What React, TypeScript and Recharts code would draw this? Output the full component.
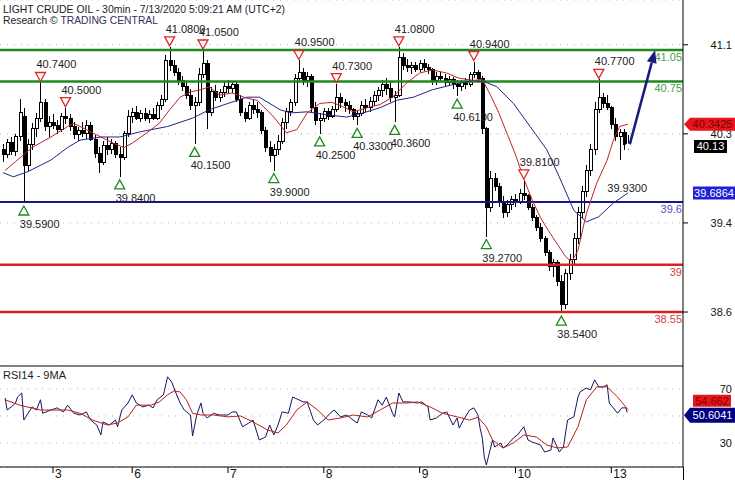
import React from 'react';
import {
  ComposedChart, Bar, Line, Scatter, XAxis, YAxis, CartesianGrid,
  ReferenceLine, ReferenceDot,
} from 'recharts';

const FONT = '"Liberation Sans", Arial, Helvetica, sans-serif';

// ---------- DATA ----------
const TITLE = 'LIGHT CRUDE OIL - 30min - 7/13/2020 5:09:21 AM (UTC+2)';

// hourly candles [open, high, low, close], t = index
const candles: [number, number, number, number][] = [
  [40.10,40.15,39.98,40.05],[40.05,40.20,40.02,40.17],[40.17,40.22,40.05,40.08],[40.08,40.25,40.04,40.22],
  [40.22,40.58,40.18,40.45],[40.42,40.50,39.59,39.95],[39.95,40.20,39.90,40.15],[40.15,40.35,40.10,40.30],
  [40.30,40.45,40.22,40.40],[40.40,40.74,40.36,40.55],[40.55,40.58,40.28,40.32],[40.32,40.42,40.22,40.36],
  [40.36,40.44,40.30,40.33],[40.33,40.38,40.25,40.29],[40.29,40.45,40.27,40.42],[40.42,40.50,40.34,40.40],
  [40.40,40.44,40.28,40.32],[40.32,40.36,40.20,40.24],[40.24,40.32,40.18,40.28],[40.28,40.36,40.22,40.25],
  [40.25,40.38,40.20,40.33],[40.33,40.36,40.18,40.20],[40.20,40.24,40.02,40.06],[40.06,40.12,39.88,39.98],
  [39.98,40.18,39.95,40.14],[40.14,40.22,40.05,40.10],[40.10,40.20,40.06,40.16],[40.16,40.18,40.02,40.05],
  [40.05,40.12,39.84,40.02],[40.02,40.28,40.00,40.25],[40.25,40.48,40.22,40.42],[40.42,40.50,40.35,40.45],
  [40.45,40.52,40.38,40.40],[40.40,40.48,40.36,40.44],[40.44,40.50,40.37,40.40],[40.40,40.48,40.35,40.43],
  [40.43,40.50,40.38,40.40],[40.40,40.55,40.38,40.52],[40.52,40.62,40.48,40.58],[40.58,41.00,40.55,40.95],
  [40.95,41.08,40.85,40.90],[40.90,40.95,40.80,40.84],[40.84,40.88,40.72,40.76],[40.76,40.80,40.66,40.70],
  [40.70,40.74,40.58,40.62],[40.62,40.68,40.48,40.52],[40.52,40.60,40.15,40.55],[40.55,40.88,40.52,40.82],
  [40.82,41.05,40.78,40.92],[40.92,40.95,40.30,40.45],[40.45,40.70,40.42,40.65],[40.65,40.72,40.56,40.60],
  [40.60,40.68,40.55,40.64],[40.64,40.74,40.60,40.70],[40.70,40.76,40.63,40.68],[40.68,40.75,40.64,40.72],
  [40.72,40.74,40.55,40.58],[40.58,40.62,40.42,40.45],[40.45,40.50,40.36,40.40],[40.40,40.55,40.38,40.52],
  [40.52,40.58,40.44,40.48],[40.48,40.55,40.40,40.45],[40.45,40.48,40.25,40.28],[40.28,40.32,40.08,40.12],
  [40.12,40.18,39.98,40.04],[40.04,40.15,39.90,40.10],[40.10,40.24,40.05,40.18],[40.18,40.40,40.15,40.36],
  [40.36,40.50,40.30,40.46],[40.46,40.58,40.42,40.55],[40.55,40.82,40.52,40.78],[40.78,40.95,40.74,40.84],
  [40.84,40.88,40.72,40.76],[40.76,40.84,40.70,40.80],[40.80,40.82,40.45,40.50],[40.50,40.55,40.33,40.38],
  [40.38,40.45,40.25,40.40],[40.40,40.50,40.36,40.46],[40.46,40.50,40.38,40.42],[40.42,40.52,40.40,40.48],
  [40.48,40.73,40.46,40.60],[40.60,40.64,40.50,40.55],[40.55,40.58,40.46,40.52],[40.52,40.56,40.44,40.48],
  [40.48,40.50,40.38,40.42],[40.42,40.48,40.33,40.44],[40.44,40.56,40.42,40.52],[40.52,40.58,40.46,40.50],
  [40.50,40.60,40.46,40.56],[40.56,40.66,40.52,40.62],[40.62,40.70,40.56,40.66],[40.66,40.76,40.60,40.72],
  [40.72,40.78,40.62,40.68],[40.68,40.74,40.55,40.60],[40.60,40.66,40.36,40.62],[40.62,41.08,40.60,40.98],
  [40.98,41.02,40.86,40.90],[40.90,40.96,40.84,40.88],[40.88,40.94,40.82,40.90],[40.90,40.94,40.84,40.86],
  [40.86,40.95,40.84,40.92],[40.92,40.96,40.85,40.88],[40.88,40.92,40.82,40.86],[40.86,40.88,40.72,40.76],
  [40.76,40.84,40.72,40.80],[40.80,40.84,40.74,40.78],[40.78,40.82,40.70,40.74],[40.74,40.80,40.72,40.77],
  [40.77,40.79,40.68,40.72],[40.72,40.76,40.61,40.70],[40.70,40.76,40.66,40.74],[40.74,40.78,40.68,40.72],
  [40.72,40.84,40.70,40.82],[40.82,40.94,40.78,40.84],[40.84,40.86,40.74,40.78],[40.78,40.80,40.25,40.30],
  [40.30,40.32,39.27,39.55],[39.55,39.90,39.50,39.82],[39.82,39.88,39.70,39.75],[39.75,39.78,39.55,39.60],
  [39.60,39.66,39.45,39.50],[39.50,39.62,39.46,39.58],[39.58,39.66,39.52,39.62],[39.62,39.68,39.55,39.60],
  [39.60,39.72,39.58,39.68],[39.68,39.81,39.62,39.66],[39.66,39.68,39.52,39.55],[39.55,39.58,39.42,39.45],
  [39.45,39.48,39.32,39.36],[39.36,39.40,39.22,39.25],[39.25,39.28,39.08,39.12],[39.12,39.14,38.94,38.98],
  [38.98,39.06,38.88,39.02],[39.02,39.05,38.80,38.84],[38.84,38.90,38.54,38.62],[38.62,38.96,38.58,38.92],
  [38.92,39.10,38.86,39.05],[39.05,39.30,39.00,39.25],[39.25,39.55,39.20,39.50],[39.50,39.75,39.45,39.70],
  [39.70,39.95,39.65,39.90],[39.90,40.15,39.85,40.10],[40.10,40.55,40.05,40.48],[40.48,40.77,40.45,40.60],
  [40.60,40.64,40.50,40.54],[40.54,40.62,40.48,40.50],[40.50,40.52,40.30,40.34],[40.34,40.40,40.18,40.22],
  [40.22,40.30,40.00,40.26],[40.26,40.30,40.10,40.15],[40.15,40.24,40.10,40.13],
];

const redMa: [number, number][] = [
  [0.5,39.90],[7,40.12],[11.5,40.22],[15.5,40.32],[17,40.35],[20,40.29],[23.5,40.22],[26.5,40.16],
  [29,40.12],[31,40.16],[34.5,40.26],[37.5,40.35],[40,40.48],[42.5,40.60],[45,40.65],[47.5,40.67],
  [49.5,40.70],[52,40.62],[55,40.64],[58.5,40.59],[61,40.57],[65,40.41],[68,40.26],[70.5,40.29],
  [73,40.45],[76,40.54],[79,40.55],[81.5,40.51],[84,40.46],[87.5,40.50],[90.5,40.53],[93.5,40.60],
  [97,40.74],[100,40.83],[103,40.86],[106.5,40.83],[109.5,40.78],[113,40.76],[115,40.77],[117,40.62],
  [119,40.45],[121,40.25],[123,40.05],[125,39.82],[127,39.62],[129,39.45],[131,39.32],[133,39.20],
  [135,39.08],[136.5,39.03],[138,39.14],[140,39.49],[142.5,39.78],[145,40.00],[146.5,40.19],[148,40.32],
  [150,40.3425],
];

const blueMa: [number, number][] = [
  [0,39.88],[2.5,39.84],[6,39.89],[11.5,40.00],[15.5,40.12],[18.5,40.19],[23.5,40.22],[28,40.22],
  [33,40.27],[39.5,40.32],[45.5,40.40],[49.5,40.48],[54,40.54],[58.5,40.60],[61.5,40.60],[66.5,40.48],
  [69,40.45],[73,40.46],[78,40.43],[82.5,40.41],[86.5,40.45],[90.5,40.50],[94.5,40.57],[98.5,40.60],
  [103,40.67],[108,40.72],[113,40.76],[116,40.74],[118.5,40.70],[122.5,40.54],[126.5,40.32],[130.5,40.10],
  [133.5,39.84],[137,39.52],[140,39.41],[143,39.46],[146.5,39.59],[150,39.6864],
];

const rsi: [number, number][] = [
  [0.5,63.3],[1,54.4],[2,56.7],[3,59.6],[3.5,64],[4.5,67],[5,47],[6,52],[7,56.7],[8,54.4],[9,62],
  [9.5,52],[11.5,54.4],[13,56],[14.5,53],[15.5,58],[17,52],[18.5,50.7],[20,53],[21,47],[22.5,43.3],
  [23.5,36],[24,45.6],[25.5,43.3],[27,47],[27.5,42],[28.5,54.4],[30,59.6],[31,65.6],[32,59.6],
  [33.5,56.7],[35,58],[36,56],[37,62],[38.5,65.6],[39.5,79],[40.5,75],[41.5,67],[42.5,59.6],
  [43.5,54.4],[45,50.7],[45.5,35.2],[46.5,50.7],[47.5,59.6],[48,52],[49,48.5],[50.5,52],[52,50.7],
  [54,50.7],[55,53],[56,53],[57.5,42],[59,44.8],[60,47],[61.5,32.2],[63,34.4],[64,43.3],[65,36],
  [66,43.3],[67,53],[68.5,52],[69.5,64],[71,62],[72,60.4],[73,60.4],[74.5,47],[75.5,43.3],[77,47],
  [78.5,52],[79.5,54.4],[81,49.3],[82.5,50.7],[84,47],[85,44.8],[86,53],[87.5,50.7],[88.5,48.5],
  [90,62],[91,58],[92,64],[93.5,52],[94,49.3],[95,67],[96,60.4],[97.5,60.4],[99.5,59.6],[100.5,60.4],
  [102,56.7],[102.5,47],[104,48.5],[105.5,52],[106.5,53],[108,43.3],[109,48.5],[109.5,41],[110.5,47],
  [112,54.4],[113,56],[114,50.7],[114.5,41],[115,34.4],[115.5,19.6],[116,13.7],[117.5,32.2],[118,27],
  [119.5,30],[120,26.3],[121,28.5],[122.5,33.7],[123.5,36],[125,42],[126,32.2],[127,30.7],[129,28.5],
  [130,23.3],[131.5,24.8],[132,33.7],[133,27],[133.5,23.3],[134.5,27],[135.5,47],[137,49.3],[138,64],
  [138.5,67.8],[140,70.7],[141,69.3],[142,76.7],[143,71.5],[144,71.5],[145,73],[145.5,59.6],
  [147.5,52],[148.5,56],[149.5,56],[150,50.6041],
];

const rsiMa: [number, number][] = [
  [0.5,62],[4,58],[9,54.4],[15.5,54.4],[18.5,52],[21.5,47],[25,43.3],[27.5,44.8],[30,49.3],[32,58],
  [35.5,58],[37.5,60.4],[39.5,65.6],[41,68.5],[42.5,67.8],[44,62],[45.5,52],[47.5,50.7],[50.5,50.7],
  [54,49.3],[57,50],[60,45.6],[63.5,39.6],[66,37.4],[68,43.3],[70.5,54.4],[73,60.4],[75.5,54.4],
  [78,47],[81,48.5],[84,50.7],[87.5,49.3],[90.5,54.4],[93.5,59.6],[97,59.6],[99.5,60.4],[102.5,56.7],
  [105.5,52],[109,49.3],[112,47],[114,49],[116,42],[117.5,32.2],[120,26.3],[122.5,30],[125,36],
  [128,34.4],[130.5,28.5],[133,26.3],[135.5,27],[138,42],[140,62],[142.5,71.5],[145,71.5],
  [147.5,64],[150,54.662],
];

const pivots = [
  { t: 9, price: 40.74, kind: 'high' }, { t: 15, price: 40.5, kind: 'high' },
  { t: 40, price: 41.08, kind: 'high' }, { t: 48, price: 41.05, kind: 'high' },
  { t: 71, price: 40.95, kind: 'high' }, { t: 80, price: 40.73, kind: 'high' },
  { t: 95, price: 41.08, kind: 'high' }, { t: 113, price: 40.94, kind: 'high' },
  { t: 125, price: 39.81, kind: 'high' }, { t: 143, price: 40.77, kind: 'high' },
  { t: 5, price: 39.59, kind: 'low' }, { t: 28, price: 39.84, kind: 'low' },
  { t: 46, price: 40.15, kind: 'low' }, { t: 65, price: 39.9, kind: 'low' },
  { t: 76, price: 40.25, kind: 'low' }, { t: 85, price: 40.33, kind: 'low' },
  { t: 94, price: 40.36, kind: 'low' }, { t: 109, price: 40.61, kind: 'low' },
  { t: 116, price: 39.27, kind: 'low' }, { t: 134, price: 38.54, kind: 'low' },
  { t: 146, price: 39.93, kind: 'lowText' },
];

const levels = [
  { value: 41.05, label: '41.05', kind: 'resistance' },
  { value: 40.75, label: '40.75', kind: 'resistance' },
  { value: 39.6, label: '39.6', kind: 'pivot' },
  { value: 39.0, label: '39', kind: 'support' },
  { value: 38.55, label: '38.55', kind: 'support' },
];

const targetArrow = { from: [150.3, 40.13], to: [156.5, 41.05] };

const lastT = 150;
const lastClose = 40.13;
const lastRedMa = 40.3425;
const lastBlueMa = 39.6864;
const lastRsi = 50.6041;
const lastRsiMa = 54.662;

const dayTicks = [12, 31, 54, 77, 100, 123, 146];
const dayLabels = ['3', '6', '7', '8', '9', '10', '13'];
const priceTicks = [41.1, 40.25, 39.4, 38.55];
const priceTickLabels = ['41.1', '40.3', '39.4', '38.6'];
const rsiTicks = [30, 50, 70];
const rsiTickLabels = ['30', '50', '70'];

// ---------- CONFIG ----------
const X_DOMAIN: [number, number] = [-0.72, 163.2];
const PRICE_DOMAIN: [number, number] = [38.035, 41.527];
const RSI_DOMAIN: [number, number] = [12.2, 87.0];

const levelStyle: Record<string, { line: string; text: string; width: number }> = {
  resistance: { line: '#1f8a1f', text: '#4c9c4c', width: 2.5 },
  pivot: { line: '#16168c', text: '#5555c8', width: 2 },
  support: { line: '#d82222', text: '#d84040', width: 2.5 },
};

const candleRows = candles.map(([o, h, l, c], t) => ({ t, o, h, l, c, range: [l, h] }));
const toRows = (pairs: [number, number][]) => pairs.map(([t, v]) => ({ t, v }));
const lastRow = [{ t: lastT, v: lastClose }];
const lastRsiRow = [{ t: lastT, v: lastRsi }];

// ---------- SHAPES ----------
const Candle = (props: any) => {
  const { x, y, width, height, payload } = props;
  if (x == null || y == null || !payload) return null;
  const top = Math.min(y, y + height);
  const bot = Math.max(y, y + height);
  const { o, h, l, c } = payload;
  const span = h - l || 1e-9;
  const py = (v: number) => top + ((h - v) / span) * (bot - top);
  const cx = Math.round(x + width / 2) + 0.5;
  const yo = py(o), yc = py(c);
  const bt = Math.min(yo, yc), bb = Math.max(yo, yc);
  const up = c >= o;
  return (
    <g shapeRendering="crispEdges">
      <line x1={cx} x2={cx} y1={top} y2={bot} stroke="#000" strokeWidth={1} />
      <rect x={cx - 1.5} y={bt} width={3} height={Math.max(bb - bt, 1)}
        fill={up ? '#fff' : '#000'} stroke="#000" strokeWidth={1} />
    </g>
  );
};

const PivotMark = (props: any) => {
  const { cx, cy, payload } = props;
  if (cx == null || cy == null || !payload) return null;
  const label = payload.price.toFixed(4);
  if (payload.kind === 'high') {
    return (
      <g>
        <polygon points={`${cx - 5},${cy - 10} ${cx + 5},${cy - 10} ${cx},${cy - 1}`}
          fill="#fff" stroke="#e02525" strokeWidth={1.3} />
        <text x={cx - 4} y={cy - 14} fontSize={11} fontFamily={FONT} fill="#222">{label}</text>
      </g>
    );
  }
  return (
    <g>
      {payload.kind === 'low' && (
        <polygon points={`${cx - 5},${cy + 12} ${cx + 5},${cy + 12} ${cx},${cy + 3}`}
          fill="#fff" stroke="#1f8a1f" strokeWidth={1.3} />
      )}
      <text x={cx - 4} y={cy + 25} fontSize={11} fontFamily={FONT} fill="#222">{label}</text>
    </g>
  );
};

const ArrowShape = (p: any) => {
  const { x1, y1, x2, y2 } = p;
  if ([x1, y1, x2, y2].some((v) => v == null)) return null;
  const ang = Math.atan2(y2 - y1, x2 - x1);
  const L = 13, Wd = 5;
  const bx = x2 - L * Math.cos(ang), by = y2 - L * Math.sin(ang);
  const nx = -Math.sin(ang), ny = Math.cos(ang);
  return (
    <g>
      <line x1={x1} y1={y1} x2={bx} y2={by} stroke="#1b1b7e" strokeWidth={2.5} />
      <polygon points={`${x2},${y2} ${bx + nx * Wd},${by + ny * Wd} ${bx - nx * Wd},${by - ny * Wd}`} fill="#1b1b7e" />
    </g>
  );
};

const makeTag = (text: string, bg: string, fg: string, left: number, right: number, arrow: boolean, dy = 0, h = 13) =>
  (p: any) => {
    const { cy } = p;
    if (cy == null) return null;
    const c = cy + dy;
    const tip = left - 6;
    const pts = arrow
      ? `${tip},${c} ${left},${c - h / 2} ${right},${c - h / 2} ${right},${c + h / 2} ${left},${c + h / 2}`
      : `${left},${c - h / 2} ${right},${c - h / 2} ${right},${c + h / 2} ${left},${c + h / 2}`;
    return (
      <g>
        <polygon points={pts} fill={bg} />
        <text x={(left + right) / 2} y={c + 4} textAnchor="middle" fontSize={11} fontFamily={FONT} fill={fg}>{text}</text>
      </g>
    );
  };

const PriceTick = (props: any) => {
  const { y, payload } = props;
  const i = priceTicks.indexOf(payload.value);
  return <text x={732} y={y + 4} textAnchor="end" fontSize={11} fontFamily={FONT} fill="#111">{priceTickLabels[i]}</text>;
};

const RsiTick = (props: any) => {
  const { y, payload } = props;
  const i = rsiTicks.indexOf(payload.value);
  return <text x={732} y={y + 4} textAnchor="end" fontSize={11} fontFamily={FONT} fill="#111">{rsiTickLabels[i]}</text>;
};

const DayTick = (props: any) => {
  const { x, y, payload } = props;
  const i = dayTicks.indexOf(payload.value);
  return <text x={x + 2} y={y + 5} fontSize={12} fontFamily={FONT} fill="#111">{dayLabels[i]}</text>;
};

const LevelLabel = (props: any) => {
  const { viewBox, text, color } = props;
  if (!viewBox) return null;
  return (
    <text x={viewBox.x + viewBox.width - 1} y={viewBox.y + 11} textAnchor="end" fontSize={11} fontFamily={FONT} fill={color}>{text}</text>
  );
};

export default function App() {
  return (
    <div style={{ position: 'absolute', left: 0, top: 0, width: 735, height: 480, background: '#fff', overflow: 'hidden' }}>
      {/* price panel */}
      <div style={{ position: 'absolute', left: 0, top: 0 }}>
        <ComposedChart width={735} height={367} data={candleRows} margin={{ top: 0, right: 0, bottom: 0, left: 0 }}>
          <CartesianGrid vertical={false} stroke="#b0b0b0" strokeDasharray="1 6" />
          <XAxis dataKey="t" type="number" domain={X_DOMAIN} allowDataOverflow ticks={dayTicks}
            tick={false} tickLine={false} axisLine={{ stroke: '#000' }} height={1} />
          <YAxis orientation="right" type="number" domain={PRICE_DOMAIN} allowDataOverflow ticks={priceTicks}
            interval={0} width={52} tickSize={5} tickLine={{ stroke: '#000' }} axisLine={{ stroke: '#000' }}
            tick={<PriceTick />} />
          {levels.map((lv) => (
            <ReferenceLine key={lv.label} y={lv.value} stroke={levelStyle[lv.kind].line}
              strokeWidth={levelStyle[lv.kind].width}
              label={<LevelLabel text={lv.label} color={levelStyle[lv.kind].text} />} />
          ))}
          <Bar dataKey="range" shape={Candle} barSize={3} isAnimationActive={false} />
          <Line data={toRows(blueMa)} dataKey="v" stroke="#23238c" strokeWidth={1} dot={false} activeDot={false} isAnimationActive={false} />
          <Line data={toRows(redMa)} dataKey="v" stroke="#c02424" strokeWidth={1} dot={false} activeDot={false} isAnimationActive={false} />
          <Scatter data={pivots} dataKey="price" shape={PivotMark} isAnimationActive={false} />
          <ReferenceLine segment={[{ x: targetArrow.from[0], y: targetArrow.from[1] }, { x: targetArrow.to[0], y: targetArrow.to[1] }]}
            shape={ArrowShape} ifOverflow="visible" />
        </ComposedChart>
      </div>
      {/* price value tags drawn above the axis labels */}
      <div style={{ position: 'absolute', left: 0, top: 0 }}>
        <ComposedChart width={735} height={367} data={lastRow} margin={{ top: 0, right: 52, bottom: 1, left: 0 }}>
          <XAxis dataKey="t" type="number" domain={X_DOMAIN} allowDataOverflow hide />
          <YAxis type="number" domain={PRICE_DOMAIN} allowDataOverflow hide />
          <Line dataKey="v" stroke="none" dot={false} activeDot={false} isAnimationActive={false} />
          <ReferenceDot x={lastT} y={lastRedMa} r={0} ifOverflow="visible"
            shape={makeTag(lastRedMa.toFixed(4), '#e8161c', '#7a0000', 690, 735, true)} />
          <ReferenceDot x={lastT} y={lastClose} r={0} ifOverflow="visible"
            shape={makeTag(lastClose.toFixed(2), '#000', '#fff', 694, 727, false)} />
          <ReferenceDot x={lastT} y={lastBlueMa} r={0} ifOverflow="visible"
            shape={makeTag(lastBlueMa.toFixed(4), '#2020d8', '#fff', 693, 735, false)} />
        </ComposedChart>
      </div>
      {/* RSI panel */}
      <div style={{ position: 'absolute', left: 0, top: 366 }}>
        <ComposedChart width={735} height={114} margin={{ top: 0, right: 0, bottom: 0, left: 0 }}>
          <CartesianGrid vertical={false} stroke="#b0b0b0" strokeDasharray="1 6" />
          <XAxis dataKey="t" type="number" domain={X_DOMAIN} allowDataOverflow ticks={dayTicks} interval={0}
            tickSize={6} tickMargin={0} height={13} tick={<DayTick />}
            axisLine={{ stroke: '#000' }} tickLine={{ stroke: '#000' }} />
          <YAxis orientation="right" type="number" domain={RSI_DOMAIN} allowDataOverflow ticks={rsiTicks}
            interval={0} width={52} tickLine={false} axisLine={{ stroke: '#000' }} tick={<RsiTick />} />
          <Line data={toRows(rsi)} dataKey="v" stroke="#16165e" strokeWidth={1} dot={false} activeDot={false} isAnimationActive={false} />
          <Line data={toRows(rsiMa)} dataKey="v" stroke="#b82020" strokeWidth={1} dot={false} activeDot={false} isAnimationActive={false} />
        </ComposedChart>
      </div>
      {/* RSI value tags */}
      <div style={{ position: 'absolute', left: 0, top: 366 }}>
        <ComposedChart width={735} height={114} data={lastRsiRow} margin={{ top: 0, right: 52, bottom: 13, left: 0 }}>
          <XAxis dataKey="t" type="number" domain={X_DOMAIN} allowDataOverflow hide />
          <YAxis type="number" domain={RSI_DOMAIN} allowDataOverflow hide />
          <Line dataKey="v" stroke="none" dot={false} activeDot={false} isAnimationActive={false} />
          <ReferenceDot x={lastT} y={lastRsiMa} r={0} ifOverflow="visible"
            shape={makeTag(lastRsiMa.toFixed(3), '#e8161c', '#7a0000', 693, 731, false, -9, 12)} />
          <ReferenceDot x={lastT} y={lastRsi} r={0} ifOverflow="visible"
            shape={makeTag(lastRsi.toFixed(4), '#000080', '#fff', 690, 735, true, 0, 15)} />
        </ComposedChart>
      </div>
      <svg width={735} height={480} style={{ position: 'absolute', left: 0, top: 0, pointerEvents: 'none' }}>
        <text x={3} y={12.5} fontSize={11.5} fontFamily={FONT} fill="#1c1c28" textLength={282} lengthAdjust="spacingAndGlyphs">{TITLE}</text>
        <text x={3} y={23.5} fontSize={11.5} fontFamily={FONT} fill="#1c1c28" textLength={155} lengthAdjust="spacingAndGlyphs">
          Research © <tspan fill="#3a2c62">TRADING CENTRAL</tspan>
        </text>
        <text x={3} y={379} fontSize={11} fontFamily={FONT} fill="#1c1c28">RSI14 - 9MA</text>
        <line x1={683.5} x2={683.5} y1={467} y2={480} stroke="#000" />
      </svg>
    </div>
  );
}
